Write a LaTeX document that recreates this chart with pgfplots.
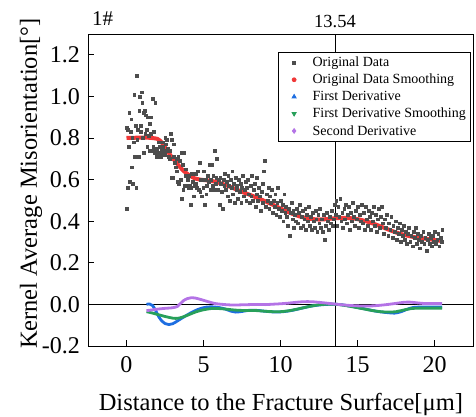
\documentclass[border=0pt]{standalone}
\usepackage{fontspec}
\setmainfont{Liberation Serif}
\usepackage{pgfplots}
\usepackage{pgfplotstable}
\pgfplotsset{compat=1.18}
\definecolor{sgray}{RGB}{77,77,77}
\definecolor{sred}{RGB}{240,55,55}
\definecolor{sblue}{RGB}{30,110,225}
\definecolor{sgreen}{RGB}{40,160,90}
\definecolor{spurple}{RGB}{180,115,230}

\pgfplotstableread{
x y
0.00 0.46
0.03 0.85
0.06 0.56
0.10 0.84
0.14 0.76
0.17 0.92
0.21 0.59
0.25 0.83
0.30 0.89
0.33 0.66
0.37 0.80
0.41 0.58
0.45 0.78
0.50 1.01
0.54 0.71
0.58 0.86
0.63 0.56
0.66 1.10
0.70 0.79
0.74 0.84
0.79 0.71
0.83 0.93
0.86 1.00
0.90 0.83
0.94 0.86
0.98 1.02
1.02 0.97
1.06 0.80
1.10 0.92
1.14 0.73
1.18 0.93
1.22 0.82
1.26 0.91
1.30 0.84
1.34 0.76
1.38 0.90
1.43 0.81
1.47 0.74
1.51 0.87
1.56 0.82
1.60 0.90
1.64 0.74
1.68 0.99
1.73 0.76
1.77 0.83
1.81 0.73
1.86 0.97
1.90 0.74
1.94 0.71
1.98 0.75
2.03 0.73
2.07 0.78
2.12 0.73
2.16 0.76
2.20 0.71
2.25 0.73
2.29 0.75
2.33 0.78
2.38 0.76
2.42 0.74
2.46 0.72
2.51 0.80
2.55 0.77
2.60 0.79
2.64 0.74
2.69 0.75
2.73 0.71
2.78 0.70
2.82 0.74
2.87 0.82
2.91 0.61
2.96 0.79
3.00 0.61
3.05 0.77
3.09 0.71
3.14 0.68
3.18 0.66
3.23 0.70
3.27 0.64
3.32 0.59
3.36 0.71
3.41 0.58
3.45 0.69
3.50 0.60
3.55 0.73
3.59 0.51
3.64 0.67
3.68 0.55
3.73 0.73
3.78 0.57
3.82 0.62
3.87 0.65
3.91 0.57
3.96 0.60
4.01 0.56
4.05 0.62
4.10 0.57
4.15 0.48
4.20 0.56
4.24 0.63
4.29 0.59
4.34 0.52
4.39 0.58
4.44 0.57
4.48 0.63
4.53 0.58
4.58 0.56
4.63 0.64
4.68 0.55
4.73 0.68
4.78 0.54
4.83 0.60
4.88 0.52
4.93 0.60
4.98 0.56
5.03 0.64
5.08 0.48
5.13 0.60
5.18 0.53
5.23 0.57
5.28 0.62
5.33 0.59
5.38 0.67
5.43 0.55
5.48 0.60
5.53 0.67
5.58 0.57
5.63 0.62
5.68 0.55
5.73 0.74
5.78 0.58
5.83 0.61
5.88 0.70
5.93 0.55
5.98 0.60
6.04 0.48
6.09 0.61
6.14 0.58
6.19 0.54
6.24 0.46
6.29 0.60
6.34 0.57
6.40 0.63
6.45 0.55
6.50 0.59
6.55 0.52
6.60 0.62
6.66 0.57
6.71 0.50
6.76 0.60
6.81 0.56
6.87 0.64
6.92 0.53
6.97 0.58
7.02 0.49
7.08 0.61
7.13 0.55
7.18 0.57
7.24 0.51
7.29 0.60
7.34 0.54
7.40 0.58
7.45 0.49
7.50 0.56
7.56 0.62
7.61 0.52
7.66 0.55
7.72 0.59
7.77 0.50
7.83 0.56
7.88 0.60
7.93 0.53
7.99 0.49
8.04 0.57
8.10 0.52
8.15 0.62
8.21 0.50
8.26 0.55
8.32 0.58
8.37 0.47
8.43 0.53
8.48 0.61
8.54 0.50
8.59 0.56
8.65 0.52
8.70 0.45
8.76 0.54
8.82 0.58
8.87 0.49
8.93 0.64
8.98 0.69
9.04 0.47
9.09 0.53
9.15 0.50
9.21 0.56
9.26 0.46
9.32 0.52
9.38 0.49
9.43 0.55
9.49 0.44
9.55 0.50
9.60 0.47
9.66 0.53
9.72 0.43
9.78 0.49
9.83 0.56
9.89 0.46
9.95 0.42
10.01 0.50
10.06 0.45
10.12 0.48
10.18 0.40
10.24 0.53
10.30 0.44
10.35 0.47
10.41 0.42
10.47 0.38
10.53 0.46
10.59 0.33
10.65 0.44
10.71 0.49
10.77 0.41
10.82 0.45
10.88 0.37
10.94 0.43
11.00 0.40
11.06 0.46
11.12 0.39
11.18 0.44
11.24 0.48
11.30 0.37
11.36 0.42
11.42 0.45
11.48 0.38
11.54 0.41
11.60 0.46
11.66 0.36
11.72 0.43
11.78 0.40
11.84 0.47
11.90 0.38
11.96 0.42
12.02 0.36
12.08 0.44
12.14 0.40
12.20 0.37
12.26 0.45
12.32 0.41
12.38 0.35
12.45 0.43
12.51 0.39
12.57 0.46
12.63 0.37
12.69 0.41
12.75 0.35
12.81 0.43
12.87 0.31
12.94 0.38
13.00 0.44
13.06 0.40
13.12 0.36
13.18 0.42
13.25 0.39
13.31 0.45
13.37 0.38
13.43 0.41
13.50 0.48
13.56 0.43
13.62 0.50
13.68 0.38
13.75 0.47
13.81 0.42
13.87 0.51
13.94 0.40
14.00 0.44
14.06 0.37
14.13 0.46
14.19 0.41
14.25 0.48
14.32 0.39
14.38 0.43
14.44 0.47
14.51 0.36
14.57 0.44
14.63 0.40
14.70 0.49
14.76 0.42
14.83 0.38
14.89 0.45
14.96 0.41
15.02 0.47
15.08 0.37
15.15 0.43
15.21 0.40
15.28 0.48
15.34 0.39
15.41 0.44
15.47 0.36
15.54 0.47
15.60 0.41
15.67 0.38
15.73 0.45
15.80 0.42
15.86 0.36
15.93 0.44
15.99 0.40
16.06 0.47
16.13 0.38
16.19 0.43
16.26 0.35
16.32 0.41
16.39 0.46
16.46 0.37
16.52 0.42
16.59 0.47
16.65 0.39
16.72 0.34
16.79 0.41
16.85 0.37
16.92 0.43
16.99 0.33
17.05 0.39
17.12 0.36
17.19 0.42
17.26 0.32
17.32 0.38
17.39 0.35
17.46 0.40
17.53 0.31
17.59 0.37
17.66 0.34
17.73 0.39
17.80 0.30
17.87 0.36
17.94 0.33
18.00 0.38
18.07 0.31
18.14 0.35
18.21 0.29
18.28 0.34
18.35 0.37
18.42 0.30
18.49 0.33
18.56 0.28
18.63 0.35
18.70 0.32
18.77 0.37
18.84 0.29
18.91 0.34
18.98 0.31
19.05 0.27
19.12 0.33
19.19 0.30
19.26 0.35
19.33 0.29
19.40 0.32
19.47 0.26
19.54 0.31
19.61 0.34
19.68 0.29
19.75 0.32
19.82 0.28
19.89 0.33
19.96 0.30
20.03 0.35
20.10 0.29
20.17 0.31
20.24 0.34
20.31 0.28
20.38 0.32
20.45 0.30
20.50 0.36
}\origdata

\pgfplotstableread{
x y
0.00 0.800
0.50 0.801
1.00 0.802
1.50 0.801
2.00 0.796
2.20 0.786
2.40 0.767
2.60 0.745
2.80 0.722
3.00 0.703
3.20 0.685
3.40 0.667
3.60 0.650
3.80 0.636
4.00 0.625
4.20 0.615
4.40 0.607
4.70 0.601
5.00 0.598
5.50 0.594
6.00 0.585
6.50 0.572
7.00 0.557
7.50 0.541
8.00 0.527
8.50 0.512
9.00 0.496
9.50 0.479
10.00 0.461
10.50 0.444
11.00 0.429
11.50 0.418
12.00 0.411
12.50 0.408
13.00 0.410
13.50 0.414
14.00 0.416
14.50 0.415
15.00 0.410
15.50 0.401
16.00 0.389
16.50 0.375
17.00 0.360
17.50 0.346
18.00 0.335
18.50 0.326
19.00 0.320
19.50 0.315
20.00 0.310
20.50 0.304
}\smoothdata

\pgfplotstableread{
x y
1.30 0.000
1.50 0.002
1.70 -0.006
1.90 -0.030
2.10 -0.060
2.30 -0.080
2.50 -0.092
2.75 -0.097
3.00 -0.093
3.30 -0.080
3.60 -0.066
4.00 -0.048
4.40 -0.032
4.80 -0.020
5.20 -0.013
5.60 -0.012
6.00 -0.015
6.40 -0.022
6.80 -0.033
7.10 -0.037
7.50 -0.034
8.00 -0.028
8.50 -0.029
9.00 -0.033
9.50 -0.036
10.00 -0.036
10.50 -0.032
11.00 -0.025
11.50 -0.016
12.00 -0.008
12.50 -0.003
13.00 0.000
13.50 0.001
14.00 -0.002
14.50 -0.008
15.00 -0.015
15.50 -0.022
16.00 -0.030
16.50 -0.036
17.00 -0.040
17.40 -0.042
17.80 -0.036
18.20 -0.024
18.60 -0.015
19.00 -0.013
19.50 -0.013
20.00 -0.013
20.50 -0.013
}\firstder

\pgfplotstableread{
x y
1.30 -0.035
1.60 -0.040
2.00 -0.048
2.50 -0.058
3.00 -0.066
3.30 -0.067
3.60 -0.062
4.00 -0.051
4.50 -0.036
5.00 -0.026
5.50 -0.020
6.00 -0.020
6.50 -0.023
7.00 -0.027
7.50 -0.029
8.00 -0.029
8.50 -0.030
9.00 -0.033
9.50 -0.035
10.00 -0.035
10.50 -0.031
11.00 -0.024
11.50 -0.016
12.00 -0.008
12.50 -0.002
13.00 0.001
13.50 0.001
14.00 -0.003
14.50 -0.009
15.00 -0.016
15.50 -0.023
16.00 -0.030
16.50 -0.035
17.00 -0.037
17.50 -0.035
18.00 -0.027
18.50 -0.020
19.00 -0.018
19.50 -0.018
20.00 -0.018
20.50 -0.018
}\firstdersmooth

\pgfplotstableread{
x y
1.30 -0.030
1.70 -0.026
2.10 -0.022
2.50 -0.019
3.00 -0.016
3.30 -0.010
3.50 0.004
3.70 0.018
3.95 0.028
4.20 0.032
4.50 0.030
4.90 0.022
5.30 0.013
5.70 0.005
6.10 0.001
6.60 -0.002
7.00 -0.003
7.50 -0.002
8.00 -0.001
8.50 0.000
9.00 -0.001
9.50 0.001
10.00 0.003
10.50 0.006
11.00 0.010
11.50 0.013
12.00 0.013
12.50 0.010
13.00 0.006
13.50 0.002
14.00 -0.002
14.50 -0.005
15.00 -0.007
15.50 -0.008
16.00 -0.007
16.50 -0.004
17.00 0.000
17.50 0.005
18.00 0.010
18.40 0.011
18.80 0.008
19.20 0.005
19.60 0.004
20.00 0.004
20.50 0.004
}\secondder

\begin{document}
\begin{tikzpicture}
\useasboundingbox (-88pt,-71pt) rectangle (388pt,346pt);
\begin{axis}[
  scale only axis, width=385pt, height=312pt,
  at={(0pt,0pt)}, anchor=south west,
  xmin=-2.5, xmax=22.5, ymin=-0.2, ymax=1.3,
  clip=false,
  xtick={0,5,10,15,20},
  xticklabels={0,5,10,15,20},
  ytick={-0.2,0,0.2,0.4,0.6,0.8,1.0,1.2},
  yticklabels={-0.2,0.0,0.2,0.4,0.6,0.8,1.0,1.2},
  tick align=inside, tick pos=left, major tick length=6pt,
  tick style={black, line width=0.8pt},
  axis line style={black, line width=0.9pt},
  xticklabel style={font=\fontsize{24}{28}\selectfont, anchor=base, yshift=-26pt},
  yticklabel style={font=\fontsize{24}{28}\selectfont, anchor=east, inner sep=0pt, xshift=-8pt},
  xlabel={Distance to the Fracture Surface[μm]},
  ylabel={Kernel Average Misorientation[°]},
  xlabel style={font=\fontsize{24.5}{28}\selectfont, at={(axis description cs:0.501,0)}, anchor=base, yshift=-64pt},
  ylabel style={font=\fontsize{24.5}{28}\selectfont, at={(axis description cs:0,0.52)}, anchor=base, yshift=51pt},
  legend style={at={(rel axis cs:0.994,0.942)}, anchor=north east, draw=black, line width=0.7pt,
    font=\fontsize{14}{16}\selectfont, inner xsep=3pt, inner ysep=3pt, row sep=3pt,
    nodes={inner sep=1.5pt}},
  legend cell align=left,
  legend image code/.code={\path[draw=none, fill=none] (0pt,0pt) -- (30pt,0pt); \draw[#1] plot coordinates {(13pt,0pt)};},
]
\addplot[black, line width=0.8pt, forget plot] coordinates {(13.54,-0.2) (13.54,1.3)};
\addplot[black, line width=0.8pt, forget plot] coordinates {(-2.5,0) (22.5,0)};
\addplot[only marks, mark=square*, mark size=1.4pt, color=sgray, mark options={draw=none, fill=sgray}] table[x=x,y=y] {\origdata};
\addlegendimage{only marks, mark=*, mark size=2pt, color=sred, mark options={draw=none}}
\addlegendimage{only marks, mark=triangle*, mark size=2.4pt, color=sblue, mark options={draw=none}}
\addlegendimage{only marks, mark=triangle*, mark size=2.4pt, color=sgreen, mark options={draw=none, rotate=180}}
\addlegendimage{only marks, mark=diamond*, mark size=2.4pt, color=spurple, mark options={draw=none}}
\addplot[sred, line width=4pt, smooth, forget plot] table[x=x,y=y] {\smoothdata};
\addplot[sblue, line width=2.8pt, smooth, forget plot] table[x=x,y=y] {\firstder};
\addplot[sgreen, line width=2.8pt, smooth, forget plot] table[x=x,y=y] {\firstdersmooth};
\addplot[spurple, line width=2.8pt, smooth, forget plot] table[x=x,y=y] {\secondder};
\legend{Original Data, Original Data Smoothing, First Derivative, First Derivative Smoothing, Second Derivative}
\node[anchor=base west, font=\fontsize{21}{24}\selectfont, inner sep=0pt] at (rel axis cs:0,1) [xshift=4pt, yshift=8pt] {1\#};
\node[anchor=base, font=\fontsize{18.5}{22}\selectfont, inner sep=0pt] at (axis cs:13.54,1.3) [yshift=6.5pt] {13.54};
\end{axis}
\end{tikzpicture}
\end{document}
